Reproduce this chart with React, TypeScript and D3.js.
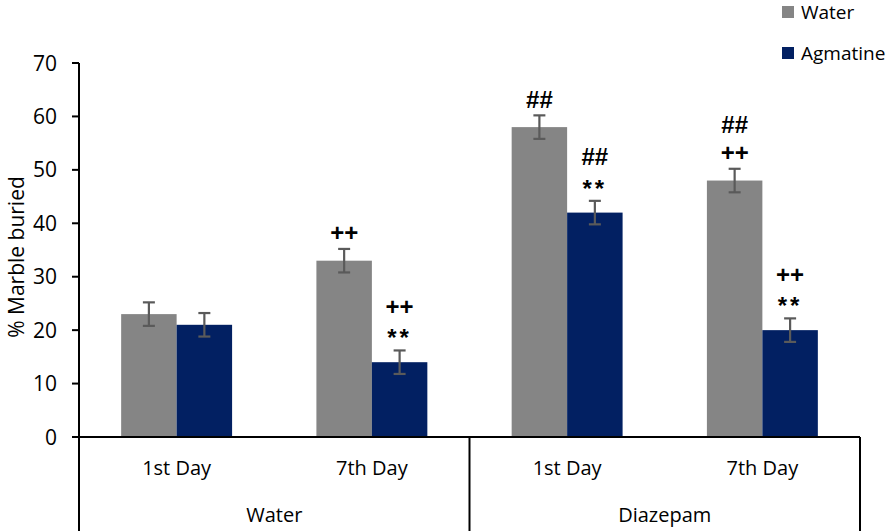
import React from 'react';
import * as d3 from 'd3';

const groups = ['Water', 'Diazepam'];
const days = ['1st Day', '7th Day'];
const series = ['Water', 'Agmatine'];
const waterValues = [23, 33, 58, 48];
const agmatineValues = [21, 14, 42, 20];
const waterErrors = [2.2, 2.2, 2.2, 2.2];
const agmatineErrors = [2.2, 2.2, 2.2, 2.2];
const waterMarks = [[], ['++'], ['##'], ['++', '##']];
const agmatineMarks = [[], ['**', '++'], ['**', '##'], ['**', '++']];
const yTicks = [0, 10, 20, 30, 40, 50, 60, 70];

const colors = { Water: '#858585', Agmatine: '#022062' };
const font = '"Open Sans", sans-serif';

export default function App() {
  const width = 894;
  const height = 531;
  const left = 79;
  const right = 860;
  const top = 63;
  const bottom = 437;

  const cats = groups.flatMap(g => days.map(d => g + '|' + d));
  const x0 = d3.scaleBand().domain(cats).range([left, right]).paddingInner(0).paddingOuter(0);
  const x1 = d3.scaleBand().domain(series).range([0, x0.bandwidth()]).paddingInner(0).paddingOuter(0.76);
  const y = d3.scaleLinear().domain([0, 70]).range([bottom, top]);

  const bars = cats.flatMap((c, i) => [
    { cat: c, s: 'Water', v: waterValues[i], e: waterErrors[i], marks: waterMarks[i] },
    { cat: c, s: 'Agmatine', v: agmatineValues[i], e: agmatineErrors[i], marks: agmatineMarks[i] },
  ]);

  const annFont = 24;

  return (
    <svg width={width} height={height} style={{ position: 'absolute', left: 0, top: 0, background: '#fff' }}>
      {/* bars */}
      {bars.map((b, i) => {
        const bx = (x0(b.cat) as number) + (x1(b.s) as number);
        return (
          <rect key={'b' + i} x={bx} y={y(b.v)} width={x1.bandwidth()} height={bottom - y(b.v)} fill={colors[b.s]} />
        );
      })}
      {/* error bars */}
      {bars.map((b, i) => {
        const cx = (x0(b.cat) as number) + (x1(b.s) as number) + x1.bandwidth() / 2;
        const y1 = y(b.v + b.e);
        const y2 = y(b.v - b.e);
        return (
          <g key={'e' + i} stroke="#5a5a5a" strokeWidth={2.2}>
            <line x1={cx} x2={cx} y1={y1} y2={y2} />
            <line x1={cx - 6} x2={cx + 6} y1={y1} y2={y1} />
            <line x1={cx - 6} x2={cx + 6} y1={y2} y2={y2} />
          </g>
        );
      })}
      {/* significance marks */}
      {bars.map((b, i) => {
        const cx = (x0(b.cat) as number) + (x1(b.s) as number) + x1.bandwidth() / 2;
        const errTop = y(b.v + b.e);
        return b.marks.map((m, j) => {
          const center = errTop - 16 - j * 28;
          const k = m === '**' ? 0.5 : 0.34;
          return (
            <text key={'m' + i + j} x={cx} y={center + k * annFont} textAnchor="middle"
              fontFamily='"Liberation Sans", Arial, sans-serif' fontWeight="bold" fontSize={annFont}
              letterSpacing={m === '**' ? 3 : 0} fill="#000">
              {m}
            </text>
          );
        });
      })}
      {/* y axis */}
      <line x1={left} x2={left} y1={top} y2={height} stroke="#000" strokeWidth={2} />
      {yTicks.map(t => (
        <g key={'t' + t}>
          <line x1={72} x2={left} y1={y(t)} y2={y(t)} stroke="#000" strokeWidth={2} />
          <text x={57} y={y(t)} dy="0.36em" textAnchor="end" fontFamily={font} fontSize={21} fill="#000">{t}</text>
        </g>
      ))}
      <text transform={`translate(16,${(top + bottom) / 2 + 7}) rotate(-90)`} textAnchor="middle" dy="0.36em"
        fontFamily={font} fontSize={21} fill="#000">% Marble buried</text>
      {/* x axis box */}
      <line x1={72} x2={right} y1={bottom} y2={bottom} stroke="#000" strokeWidth={2} />
      {groups.map(g => {
        const gx0 = x0(g + '|' + days[0]) as number;
        const gx1 = (x0(g + '|' + days[days.length - 1]) as number) + x0.bandwidth();
        return (
          <g key={'g' + g}>
            <line x1={gx1} x2={gx1} y1={bottom} y2={height} stroke="#000" strokeWidth={2} />
            <text x={(gx0 + gx1) / 2} y={522} textAnchor="middle" fontFamily={font} fontSize={20} fill="#000">{g}</text>
            {days.map(d => (
              <text key={d} x={(x0(g + '|' + d) as number) + x0.bandwidth() / 2} y={475} textAnchor="middle"
                fontFamily={font} fontSize={20} fill="#000">{d}</text>
            ))}
          </g>
        );
      })}
      {/* legend */}
      {series.map((s, i) => (
        <g key={'l' + s} transform={`translate(782,${6 + i * 41})`}>
          <rect width={12} height={12} fill={colors[s]} />
          <text x={19} y={6} dy="0.36em" fontFamily={font} fontSize={19} fill="#000">{s}</text>
        </g>
      ))}
    </svg>
  );
}
